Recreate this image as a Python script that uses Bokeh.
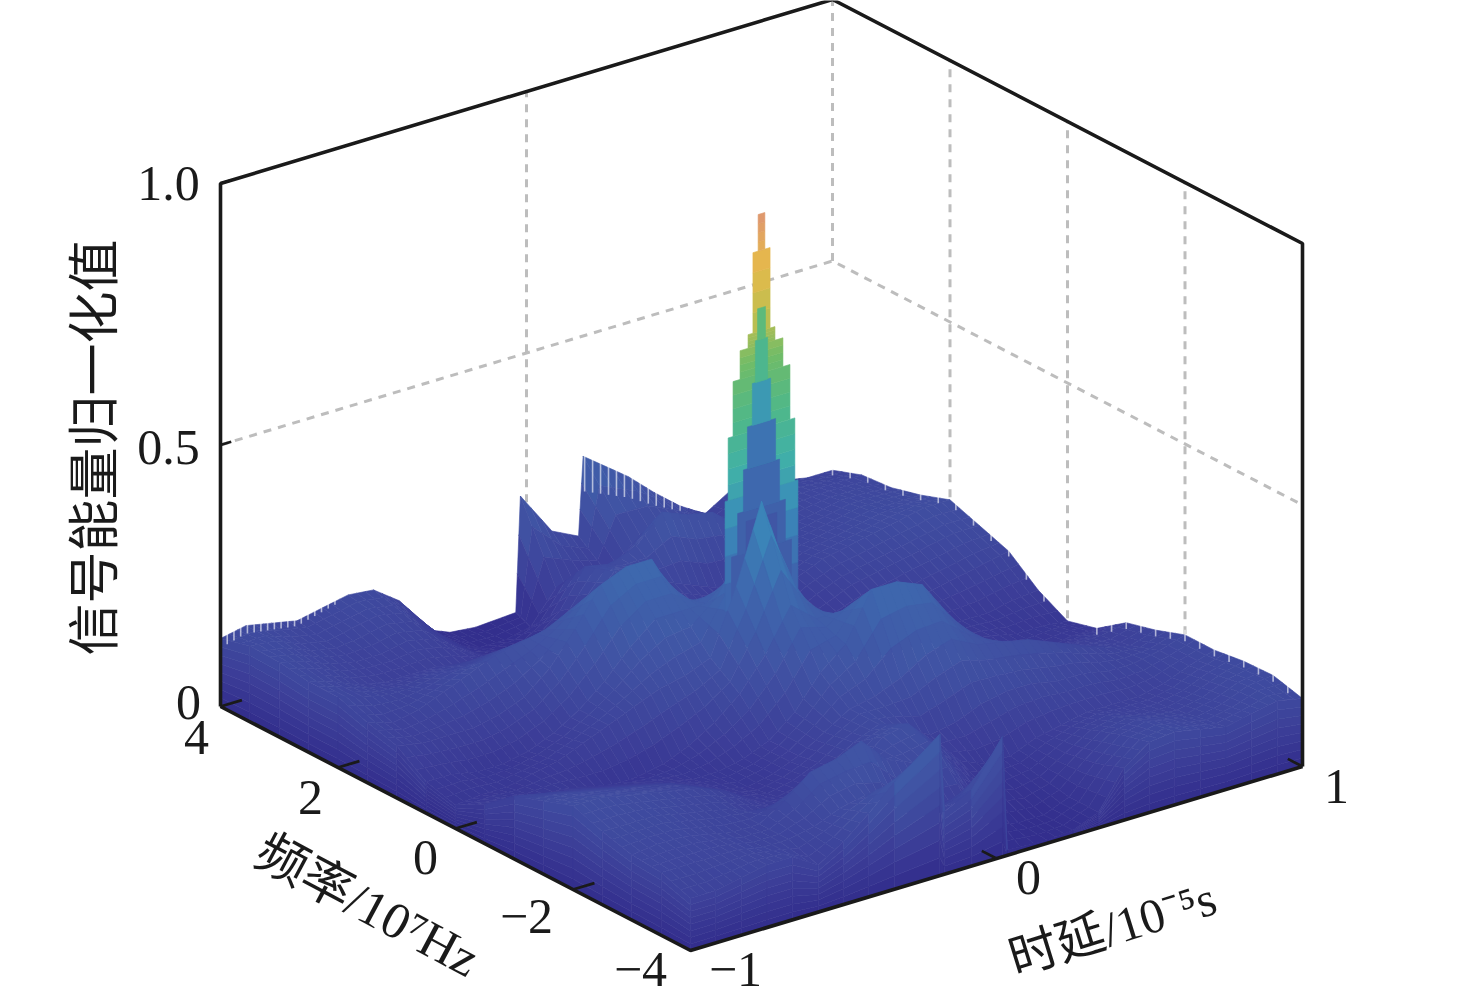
from bokeh.plotting import figure
from bokeh.models import ColumnDataSource, Range1d
from bokeh.core.properties import value
from bokeh.embed import file_html
from bokeh.resources import INLINE
import numpy as np

# ---------- data ----------
freq_rows = [4, 3.5, 3, 2.5, 2, 1.5, 1, .5, 0, -.5, -1, -1.5, -2, -2.5, -3, -3.5, -4]
delay_cols = [-1,-.917,-.833,-.75,-.667,-.583,-.5,-.417,-.333,-.25,-.167,-.083,0,.083,.167,.25,.333,.417,.5,.583,.667,.75,.833,.917,1]
delay_back = [-1,-.917,-.833,-.75,-.667,-.583,-.5,-.417,-.333,-.25,-.167,-.035,-.02,.083,.17,.185,.333,.417,.5,.583,.667,.75,.833,.917,1]
delay_front = [-1,-.917,-.833,-.75,-.667,-.583,-.5,-.417,-.333,-.185,-.17,-.083,.02,.035,.167,.25,.333,.417,.5,.583,.667,.75,.833,.917,1]
row_p40 = [.13,.14,.13,.12,.13,.14,.135,.10,.03,.01,.005,.01,.23,.145,.12,.27,.205,.16,.12,.09,.12,.12,.11,.10,.10]
row_p35 = [.145,.14,.12,.11,.12,.13,.12,.08,.03,.01,.01,.02,.08,.09,.08,.12,.15,.14,.12,.11,.11,.12,.12,.12,.12]
row_p30 = [.143,.13,.11,.10,.10,.11,.10,.07,.04,.03,.04,.08,.15,.14,.16,.21,.19,.18,.14,.11,.11,.12,.13,.13,.125]
row_p25 = [.135,.12,.10,.09,.09,.09,.08,.07,.05,.05,.07,.12,.17,.16,.12,.10,.08,.08,.09,.11,.12,.13,.14,.14,.14]
row_p20 = [.135,.12,.11,.11,.12,.12,.13,.13,.12,.10,.09,.12,.14,.12,.09,.07,.06,.07,.10,.12,.13,.14,.15,.16,.16]
row_p15 = [.115,.10,.11,.13,.15,.17,.18,.19,.215,.20,.17,.15,.14,.11,.08,.06,.05,.06,.08,.10,.11,.12,.13,.14,.14]
row_p10 = [.10,.09,.09,.09,.10,.12,.16,.22,.29,.31,.31,.22,.18,.12,.08,.06,.05,.05,.06,.07,.08,.09,.10,.11,.12]
row_p05 = [.06,.06,.05,.05,.06,.08,.11,.15,.20,.24,.24,.24,.28,.20,.14,.10,.07,.05,.04,.04,.05,.06,.06,.07,.075]
row_000 = [.045,.05,.05,.06,.07,.09,.11,.13,.15,.16,.18,.30,.45,.30,.18,.16,.15,.13,.11,.09,.07,.06,.05,.05,.045]
row_m05 = [.075,.07,.06,.06,.05,.04,.04,.05,.07,.10,.14,.20,.28,.24,.24,.24,.20,.15,.11,.08,.06,.05,.05,.06,.06]
row_m10 = [.12,.11,.10,.09,.08,.07,.06,.05,.05,.06,.08,.12,.18,.22,.31,.31,.29,.22,.16,.12,.10,.09,.09,.09,.10]
row_m15 = [.14,.14,.13,.12,.11,.10,.08,.06,.05,.06,.08,.11,.14,.15,.17,.20,.215,.19,.18,.17,.15,.13,.11,.10,.115]
row_m20 = [.16,.16,.15,.14,.13,.12,.10,.07,.06,.07,.09,.12,.14,.12,.09,.10,.12,.13,.13,.12,.12,.11,.11,.12,.135]
row_m25 = [.14,.14,.14,.13,.12,.11,.09,.08,.08,.10,.12,.16,.17,.12,.07,.05,.05,.07,.08,.09,.09,.09,.10,.12,.135]
row_m30 = [.125,.13,.13,.12,.11,.11,.14,.18,.19,.21,.16,.14,.15,.08,.04,.03,.04,.07,.10,.11,.10,.10,.11,.13,.143]
row_m35 = [.12,.12,.12,.12,.11,.11,.12,.14,.15,.12,.08,.09,.08,.02,.01,.01,.03,.08,.12,.13,.12,.11,.12,.14,.145]
row_m40 = [.10,.10,.11,.12,.12,.09,.12,.16,.205,.27,.12,.145,.23,.01,.005,.01,.03,.10,.135,.14,.13,.12,.13,.14,.13]
surface = [row_p40,row_p35,row_p30,row_p25,row_p20,row_p15,row_p10,row_p05,row_000,
           row_m05,row_m10,row_m15,row_m20,row_m25,row_m30,row_m35,row_m40]

# main lobe: stepped levels
peak_low   = [.26,.47,.59,.695,.75,.776,.93]
peak_high  = [.47,.59,.695,.75,.776,.93,1.0]
peak_half  = [.119,.109,.093,.07,.044,.028,.011]
front_low   = [.26,.36,.44,.52,.60,.68,.76]
front_high  = [.36,.44,.52,.60,.68,.76,.82]
front_half  = [.098,.078,.059,.046,.03,.02,.013]
front_level = [.24,.26,.30,.34,.46,.60,.66]
core_low, core_high, core_half, core_level = [.26], [.42], [.05], [.2]

freq_ticks = [4, 2, 0, -2, -4]
freq_labels = ["4", "2", "0", "\u22122", "\u22124"]
delay_ticks = [-1, 0, 1]
delay_labels = ["\u22121", "0", "1"]
z_ticks = [0, .5, 1.0]
z_labels = ["0", "0.5", "1.0"]

cmap_z   = [0, .08, .18, .30, .42, .52, .62, .72, .80, .90, 1.0]
cmap_rgb = [(50,45,140),(60,62,152),(64,82,163),(62,104,174),(58,138,186),(64,176,168),(80,184,136),
            (112,188,104),(190,190,80),(230,186,74),(222,150,112)]

# fine serration of the crests: (row, first delay, last delay, spacing, depth)
comb_notches = [(0, .19, .52, .026, .06), (0, -1, -.62, .022, .012)]
comb_side = [(4, 0.2, .3, .01), (-.5, -4, .25, .012)]

# ---------- 3-D view ----------
def proj(f, t, z):
    f, t, z = np.asarray(f, float), np.asarray(t, float), np.asarray(z, float)
    x = 220 + (4 - f) * 58.75 + (t + 1) * 306
    y = 706 + (4 - f) * 30.5 - (t + 1) * 92 - z * 523
    return x, y

def colour(z):
    return "#%02x%02x%02x" % tuple(int(round(np.interp(z, cmap_z, [c[i] for c in cmap_rgb]))) for i in range(3))

xs, ys, cs = [], [], []
def quad(fs, ts, zs, level=None):
    x, y = proj(fs, ts, zs)
    xs.append(list(x)); ys.append(list(y))
    cs.append(colour(np.mean(zs) if level is None else level))

def slab(low, high, half, level=None, split=4):
    for n_, (a, b, h) in enumerate(zip(low, high, half)):
        n = 1 if level else split
        for k in range(n):
            z0, z1 = a + (b - a) * k / n, a + (b - a) * (k + 1) / n
            quad([0, 0, 0, 0], [-h, h, h, -h], [z0, z0, z1, z1], level[n_] if level else None)

Z = np.array(surface)
T = np.array([delay_back] + [delay_cols] * 15 + [delay_front])
SUB = 3
def draw_row(i):
    f0, f1 = freq_rows[i], freq_rows[i + 1]
    for j in range(23, -1, -1):
        for a in range(SUB):
            for b in range(SUB - 1, -1, -1):
                u = np.array([a, a + 1, a + 1, a]) / SUB
                v = np.array([b, b, b + 1, b + 1]) / SUB
                w = lambda M: (M[i, j] * (1-u) * (1-v) + M[i+1, j] * u * (1-v)
                               + M[i, j+1] * (1-u) * v + M[i+1, j+1] * u * v)
                quad(f0 + (f1 - f0) * u, w(T), w(Z))

for i in range(8):
    draw_row(i)
slab(peak_low, peak_high, peak_half)
slab(front_low, front_high, front_half, front_level)
slab(core_low, core_high, core_half, core_level)
for i in range(8, 16):
    draw_row(i)

# front curtains down to the floor
BANDS = 8
for j in range(24):
    for k in range(BANDS):
        z0, z1 = Z[16, j], Z[16, j + 1]
        t0, t1 = T[16, j], T[16, j + 1]
        quad([-4]*4, [t0, t1, t1, t0], [z0*k/BANDS, z1*k/BANDS, z1*(k+1)/BANDS, z0*(k+1)/BANDS])
for i in range(16):
    for k in range(BANDS):
        z0, z1 = Z[i, 0], Z[i + 1, 0]
        quad([freq_rows[i], freq_rows[i+1], freq_rows[i+1], freq_rows[i]], [-1]*4,
             [z0*k/BANDS, z1*k/BANDS, z1*(k+1)/BANDS, z0*(k+1)/BANDS])

p = figure(width=1470, height=1000, output_backend="svg", toolbar_location=None,
           x_range=Range1d(0, 1470), y_range=Range1d(1000, 0), min_border=0,
           outline_line_color=None, background_fill_color="white")
p.xaxis.visible = False
p.yaxis.visible = False
p.grid.visible = False

def seg(fs, ts, zs, **kw):
    x, y = proj(fs, ts, zs)
    p.line(list(x), list(y), **kw)

GREY = dict(line_color="#bdbdbd", line_width=3, line_dash="8 7")
seg([4, 4], [1, 1], [.5, 1], **GREY)
seg([4, 4, -4], [-1, 1, 1], [.5, .5, .5], **GREY)
seg([4, 4], [0, 0], [.1, 1], **GREY)
for f in [2, 0, -2]:
    seg([f, f], [1, 1], [.05, 1], **GREY)

p.patches("xs", "ys", source=ColumnDataSource(dict(xs=xs, ys=ys, c=cs)),
          fill_color="c", line_color="c", line_width=0.6)

# serration: white notches on the crests
nx, ny = [], []
for row, t0, t1, dt, depth in comb_notches:
    for t in np.arange(t0, t1, dt):
        z = np.interp(t, T[row], Z[row])
        x, y = proj([freq_rows[row]] * 2, [t, t], [z + .01, z - depth * (t1 - t) / (t1 - t0) - .006])
        nx.append(list(x)); ny.append(list(y))
for f0, f1, df, depth in comb_side:
    for f in np.arange(f0, f1, -df):
        z = np.interp(-f, -np.array(freq_rows), Z[:, 24])
        x, y = proj([f, f], [1, 1], [z + .01, z - depth])
        nx.append(list(x)); ny.append(list(y))
p.multi_line(nx, ny, line_color="white", line_width=1.6, line_alpha=0.6)

BLACK = dict(line_color="#1a1a1a", line_width=3.6)
seg([4, 4, 4, -4, -4], [-1, -1, 1, 1, 1], [0, 1, 1, 1, 0], **BLACK)
seg([4, -4, -4], [-1, -1, 1], [0, 0, 0], **BLACK)
for f in freq_ticks[:-1]:
    seg([f, f], [-1, -.93], [0, 0], line_color="#1a1a1a", line_width=2.8)
for t in delay_ticks[1:]:
    seg([-4, -3.75], [t, t], [0, 0], line_color="#1a1a1a", line_width=2.8)
for z in z_ticks[1:]:
    seg([4, 4], [-1, -.965], [z, z], line_color="#1a1a1a", line_width=2.8)

SERIF = value("Liberation Serif, 'Noto Sans CJK SC'")
def label(x, y, s, size="50px", angle=0):
    p.text([x], [y], text=[s], text_font=SERIF, text_font_size=size, text_color="#1a1a1a",
           text_align="center", text_baseline="middle", angle=angle)

for x, y, s in zip([168, 168, 188], [183, 447, 702], z_labels[::-1]):
    label(x, y, s)
for x, y, s in zip([196, 310, 425, 526, 640], [737, 797, 857, 916, 969], freq_labels):
    label(x, y, s)
for x, y, s in zip([735, 1028, 1336], [969, 877, 786], delay_labels):
    label(x, y, s)
label(95, 447, "信号能量归一化值", "52px", np.pi / 2)
label(367, 905, "频率/10\u2077Hz", "51px", -0.49)
label(1112, 928, "时延/10\u207b\u2075s", "49px", 0.30)

open("out.html", "w").write(file_html(p, INLINE))
